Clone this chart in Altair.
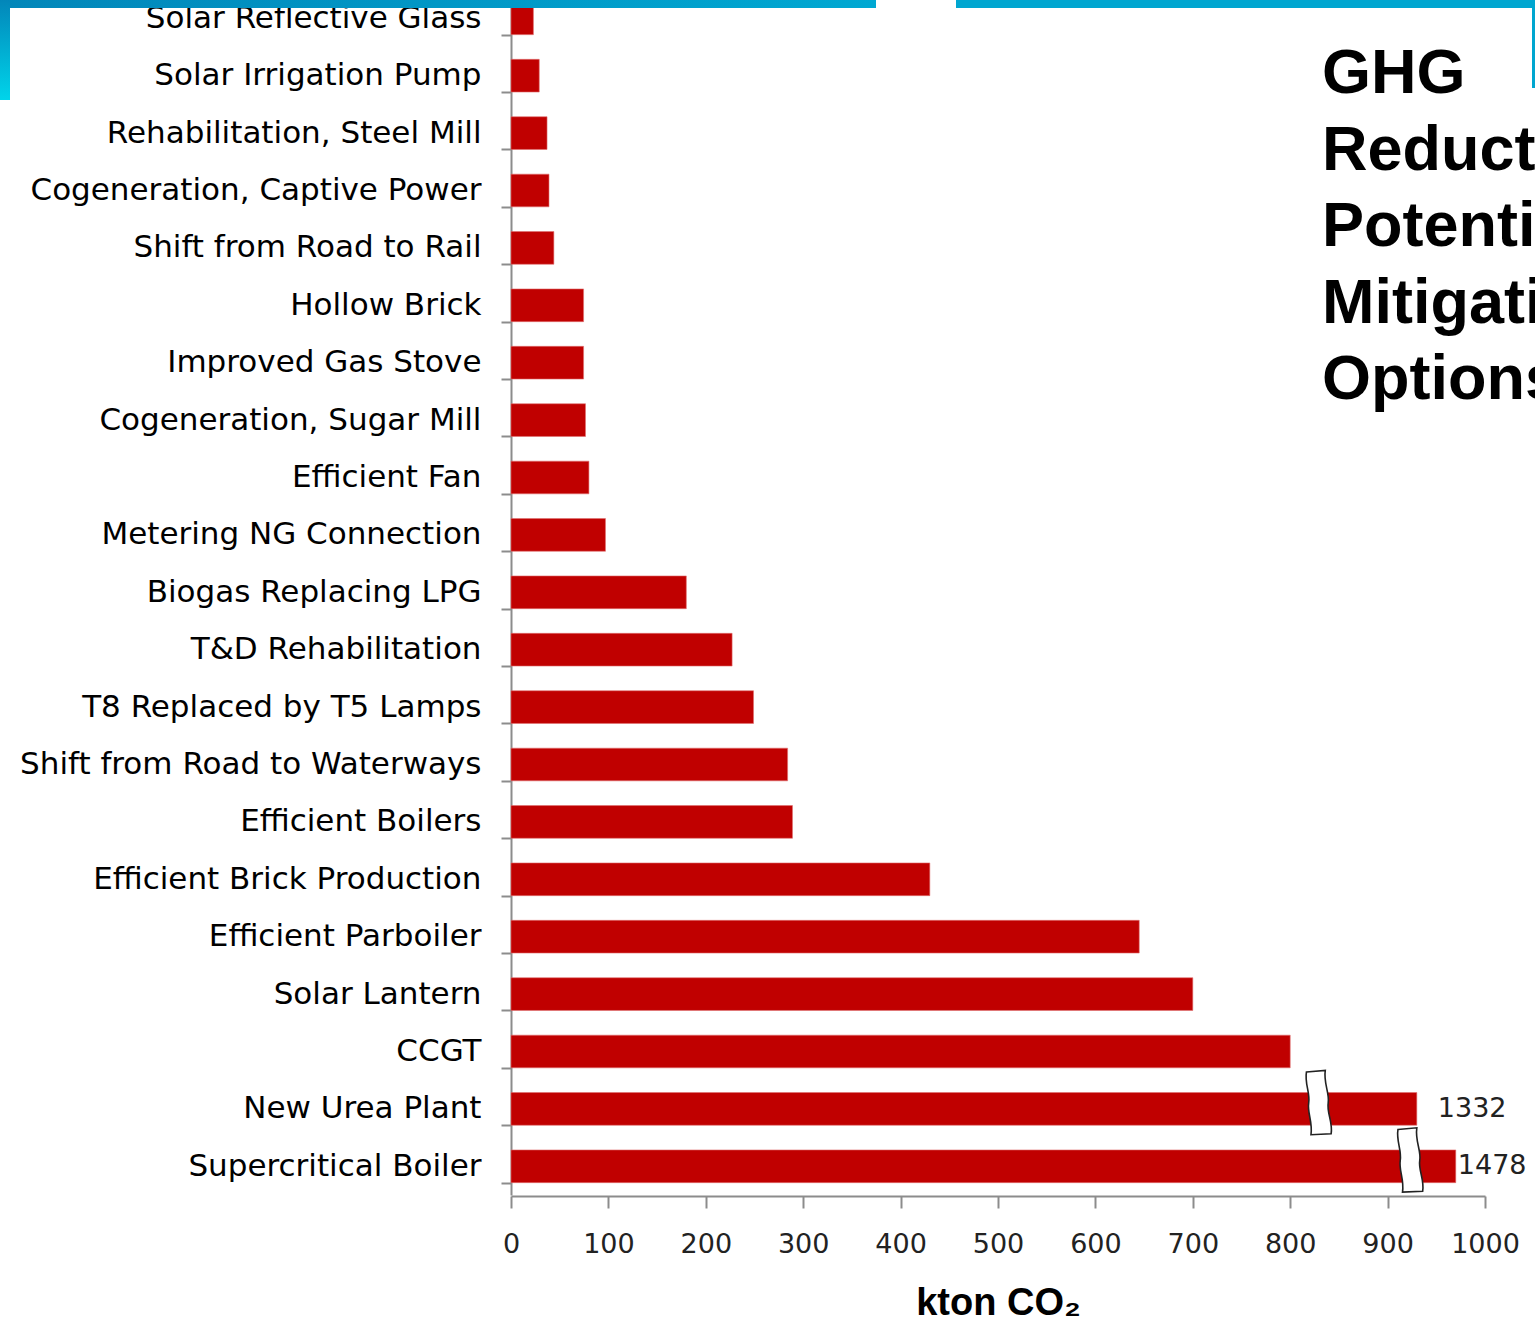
import altair as alt
import pandas as pd

# ---------------- data ----------------
categories = [
    "Solar Reflective Glass", "Solar Irrigation Pump", "Rehabilitation, Steel Mill",
    "Cogeneration, Captive Power", "Shift from Road to Rail", "Hollow Brick",
    "Improved Gas Stove", "Cogeneration, Sugar Mill", "Efficient Fan",
    "Metering NG Connection", "Biogas Replacing LPG", "T&D Rehabilitation",
    "T8 Replaced by T5 Lamps", "Shift from Road to Waterways", "Efficient Boilers",
    "Efficient Brick Production", "Efficient Parboiler", "Solar Lantern", "CCGT",
    "New Urea Plant", "Supercritical Boiler",
]
drawn_values = [23, 29, 37, 39, 44, 74.5, 74.5, 76.5, 80, 97, 180, 227, 249, 284, 289,
                430, 645, 700, 800, 930, 970]
value_labels = [""] * 19 + ["1332", "1478"]

break_categories = ["New Urea Plant", "Supercritical Boiler"]
break_values = [829, 923]

x_ticks = [0, 100, 200, 300, 400, 500, 600, 700, 800, 900, 1000]
title_lines = ["GHG", "Reduction", "Potential of", "Mitigation", "Options"]

df = pd.DataFrame({"category": categories, "value": drawn_values, "label": value_labels})
df_breaks = pd.DataFrame({"category": break_categories, "value": break_values})
dummy = pd.DataFrame({"k": [0]})

# ---------------- layout ----------------
W, H = 974, 1196
BAR = "#C00000"

y_enc = alt.Y(
    "category:N",
    sort=categories,
    scale=alt.Scale(range=[-10.4, 1195], paddingInner=0.43, paddingOuter=0.215),
    axis=alt.Axis(
        title=None, labelFontSize=31, labelFont="DejaVu Sans", labelColor="#000",
        labelPadding=20, tickSize=10, tickColor="#8c8c8c", domainColor="#8c8c8c",
        domainWidth=2, tickWidth=2, tickBand="extent", labelLimit=700, grid=False,
    ),
)
x_enc = alt.X(
    "value:Q",
    scale=alt.Scale(domain=[0, 1000], nice=False, zero=True),
    axis=alt.Axis(
        values=x_ticks, format="d", title="kton CO₂", titleFontSize=38,
        titleFont="Liberation Sans", titleFontWeight="bold", titleColor="#000",
        titlePadding=27,
        labelFontSize=27, labelFont="DejaVu Sans", labelColor="#222", labelPadding=23,
        tickSize=12, tickColor="#8c8c8c", domainColor="#8c8c8c", domainWidth=2,
        tickWidth=2, grid=False, labelFlush=False, labelOverlap=False,
    ),
)

bars = alt.Chart(df).mark_bar(color=BAR, stroke="#e07070", strokeWidth=0.6).encode(x=x_enc, y=y_enc)

lab1 = alt.Chart(df).transform_filter(alt.datum.label == "1332").mark_text(
    align="left", baseline="middle", dx=21, fontSize=27, font="DejaVu Sans", color="#222"
).encode(x="value:Q", y=alt.Y("category:N", sort=categories), text="label:N")
lab2 = alt.Chart(df).transform_filter(alt.datum.label == "1478").mark_text(
    align="left", baseline="middle", dx=2, fontSize=27, font="DejaVu Sans", color="#222"
).encode(x="value:Q", y=alt.Y("category:N", sort=categories), text="label:N")

break_shape = ("M -0.37 -0.95 L 0.21 -1 C 0.15 -0.6 0.35 -0.3 0.3 0 "
               "C 0.25 0.3 0.45 0.6 0.39 0.95 L -0.23 0.98 "
               "C -0.17 0.6 -0.35 0.3 -0.3 0 C -0.25 -0.3 -0.43 -0.6 -0.37 -0.95 Z")
breaks = alt.Chart(df_breaks).mark_point(
    shape=break_shape, filled=True, fill="white", stroke="#222", strokeWidth=1.6,
    size=4225, opacity=1, yOffset=-6,
).encode(x="value:Q", y=alt.Y("category:N", sort=categories))

# decorative slide frame
band_grad = alt.LinearGradient(
    gradient="linear", x1=0, x2=1, y1=0, y2=0,
    stops=[alt.GradientStop(color="#0286b9", offset=0), alt.GradientStop(color="#00a8d2", offset=1)],
)
top_band1 = alt.Chart(dummy).mark_rect(color=band_grad).encode(
    x=alt.value(-511), x2=alt.value(365), y=alt.value(0), y2=alt.value(8))
top_band2 = alt.Chart(dummy).mark_rect(color="#00a6d0").encode(
    x=alt.value(445), x2=alt.value(1024), y=alt.value(0), y2=alt.value(8))
left_grad = alt.LinearGradient(
    gradient="linear", x1=0, x2=0, y1=0, y2=1,
    stops=[alt.GradientStop(color="#0286b9", offset=0), alt.GradientStop(color="#00d4ea", offset=1)],
)
left_strip = alt.Chart(dummy).mark_rect(color=left_grad).encode(
    x=alt.value(-511), x2=alt.value(-501), y=alt.value(0), y2=alt.value(100))
right_line = alt.Chart(dummy).mark_rect(color="#00a6d0").encode(
    x=alt.value(1021), x2=alt.value(1024), y=alt.value(0), y2=alt.value(88))

title = alt.Chart(dummy).mark_text(
    align="left", baseline="alphabetic", fontSize=63, font="Liberation Sans",
    fontWeight="bold", color="#000", lineHeight=76.5,
).encode(x=alt.value(811), y=alt.value(93), text=alt.value(title_lines))

chart = alt.layer(
    bars, lab1, lab2, breaks, title, top_band1, top_band2, left_strip, right_line
).properties(
    width=W, height=H,
    padding={"left": 511, "top": 0, "right": 50, "bottom": 128},
    autosize=alt.AutoSizeParams(type="none"),
    background="white",
).configure_view(stroke=None)

chart.save("out.html", embed_options={"renderer": "svg", "actions": False})
